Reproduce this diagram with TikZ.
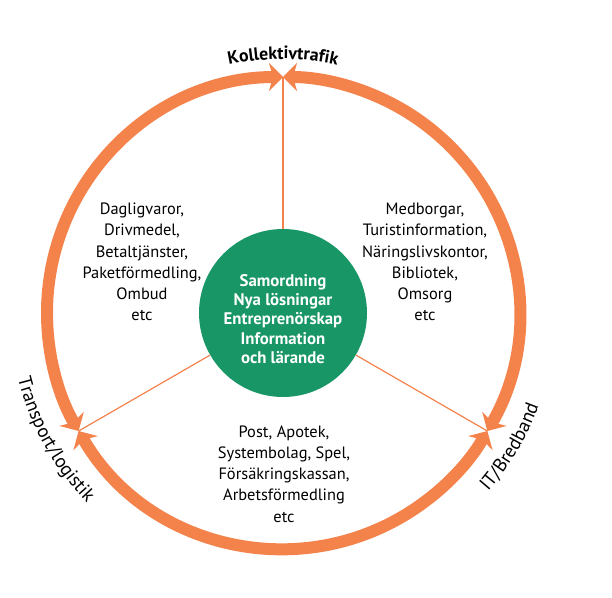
\documentclass[tikz,border=0pt]{standalone}
\usepackage{fontspec}
\setmainfont{PT Sans}
\usetikzlibrary{arrows.meta,decorations.text}
\definecolor{ringorange}{HTML}{F4824B}
\definecolor{hubgreen}{HTML}{189666}
\tikzset{
  ringarc/.style={draw=ringorange, line width=12pt,
    {Stealth[length=14pt,width=28pt,inset=4pt]}-{Stealth[length=14pt,width=28pt,inset=4pt]}},
  spoke/.style={draw=ringorange, line width=1.2pt},
  infotext/.style={align=center, inner sep=0pt, font=\fontsize{16.4}{21.2}\selectfont},
  hubtext/.style={align=center, inner sep=0pt, text=white, font=\bfseries\fontsize{16.8}{19.2}\selectfont},
  hub/.style={circle, fill=hubgreen, minimum size=168pt, inner sep=0pt},
}
\begin{document}
\begin{tikzpicture}[x=1pt,y=1pt]
\useasboundingbox (-283,-284) rectangle (329,313);
\node[hub] (hub) at (0,0) {};
\node[hubtext] (hublabel) at (0,-6) {Samordning\\Nya lösningar\\Entreprenörskap\\Information\\och lärande};
\coordinate (jtop) at (90:236pt);
\coordinate (jleft) at (210:236pt);
\coordinate (jright) at (330:236pt);
\draw[spoke] (hub) -- (jtop);
\draw[spoke] (hub) -- (jleft);
\draw[spoke] (hub) -- (jright);
\draw[ringarc] (jtop) arc[start angle=90, end angle=210, radius=236pt];
\draw[ringarc] (jleft) arc[start angle=210, end angle=330, radius=236pt];
\draw[ringarc] (jright) arc[start angle=-30, end angle=90, radius=236pt];
\node[infotext] (lefttext) at (-141,51) {Dagligvaror,\\Drivmedel,\\Betaltjänster,\\Paketförmedling,\\Ombud\\etc};
\node[infotext] (righttext) at (142,51) {Medborgar,\\Turistinformation,\\Näringslivskontor,\\Bibliotek,\\Omsorg\\etc};
\node[infotext] (bottomtext) at (1,-161) {Post, Apotek,\\Systembolag, Spel,\\Försäkringskassan,\\Arbetsförmedling\\etc};
\path[decorate, decoration={text along path, text align=center,
  text={|\bfseries\fontsize{17.8}{18}\selectfont|Kollektivtrafik}}]
  (125:254pt) arc[start angle=125, end angle=55, radius=254pt];
\path[decorate, decoration={text along path, text align=center,
  text={|\fontsize{19}{19}\selectfont|Transport/logistik}}]
  (174:273pt) arc[start angle=174, end angle=244, radius=273pt];
\path[decorate, decoration={text along path, text align=center,
  text={|\fontsize{19}{19}\selectfont|IT/Bredband}}]
  (-65.5:272pt) arc[start angle=-65.5, end angle=4.5, radius=272pt];
\end{tikzpicture}
\end{document}
